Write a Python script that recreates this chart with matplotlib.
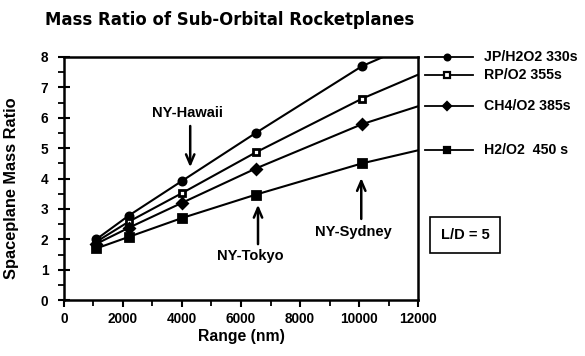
import matplotlib
matplotlib.use("Agg")
import matplotlib.pyplot as plt
from matplotlib import font_manager as fm
import matplotlib.transforms as mtrans
from matplotlib.ticker import MultipleLocator

names = {f.name for f in fm.fontManager.ttflist}
base_font = "Liberation Sans" if "Liberation Sans" in names else "DejaVu Sans"
plt.rcParams['font.family'] = [base_font, 'DejaVu Sans']

# Data
range_nm = [1100, 2200, 4000, 6500, 10100, 12000]
series_labels = ["JP/H2O2 330s", "RP/O2 355s", "CH4/O2 385s", "H2/O2  450 s"]
jp_h2o2 = [2.0, 2.78, 3.92, 5.50, 7.70, 8.5]
rp_o2 = [1.92, 2.58, 3.52, 4.86, 6.63, 7.42]
ch4_o2 = [1.85, 2.38, 3.20, 4.33, 5.79, 6.38]
h2_o2 = [1.70, 2.08, 2.70, 3.47, 4.50, 4.93]
series_values = [jp_h2o2, rp_o2, ch4_o2, h2_o2]
markers = ["o", "s", "D", "s"]
marker_faces = ["black", "white", "black", "black"]
marker_sizes = [5.2, 5.0, 4.6, 5.6]

routes = ["NY-Hawaii", "NY-Tokyo", "NY-Sydney"]
route_head = [(4280, 4.28), (6575, 3.23), (10070, 4.11)]
route_tail = [(4280, 5.82), (6575, 1.75), (10070, 2.58)]
route_text = [(4200, 6.15), (6330, 1.46), (9790, 2.25)]

fig = plt.figure(figsize=(5.85, 3.56), dpi=100)
ax = fig.add_axes([0.109, 0.157, 0.606, 0.683])

for vals, m, fc, ms in zip(series_values, markers, marker_faces, marker_sizes):
    ax.plot(range_nm, vals, color="black", lw=1.5, marker=m, ms=ms,
            mfc=fc, mec="black", mew=2.0, markevery=list(range(len(vals) - 1)))

ax.set_xlim(0, 12000)
ax.set_ylim(0, 8)
ax.xaxis.set_major_locator(MultipleLocator(2000))
ax.xaxis.set_minor_locator(MultipleLocator(1000))
ax.yaxis.set_major_locator(MultipleLocator(1))
ax.yaxis.set_minor_locator(MultipleLocator(0.5))
ax.tick_params(which="major", direction="out", length=5, width=1.5, labelsize=9.8)
ax.tick_params(which="minor", direction="out", length=4, width=1.3)
ax.tick_params(axis="y", which="major", direction="inout", length=8, pad=7)
for lab in ax.get_xticklabels() + ax.get_yticklabels():
    lab.set_fontweight("bold")
for s in ax.spines.values():
    s.set_linewidth(1.8)

ax.set_xlabel("Range (nm)", fontsize=11.3, fontweight="bold", labelpad=2)
ax.set_ylabel("Spaceplane Mass Ratio", fontsize=11.8, fontweight="bold")
ax.yaxis.set_label_coords(-0.125, 0.46)

for name, h, t, tx in zip(routes, route_head, route_tail, route_text):
    ax.annotate("", xy=h, xytext=t,
                arrowprops=dict(arrowstyle="->,head_length=0.7,head_width=0.3", lw=1.8, color="black"))
    ax.text(tx[0], tx[1], name, ha="center", va="center", fontsize=10.5, fontweight="bold")

# right-side key aligned with line ends
trans = mtrans.blended_transform_factory(ax.transAxes, ax.transData)
for lab, vals, m, fc, ms in zip(series_labels, series_values, markers, marker_faces, marker_sizes):
    yv = min(vals[-1], 8.0)
    ax.plot([1.02, 1.153], [yv, yv], transform=trans, color="black", lw=1.3, clip_on=False)
    ax.plot([1.082], [yv], transform=trans, color="black", marker=m, ms=ms * 0.8,
            mfc=fc, mec="black", mew=1.6, clip_on=False)
    ax.text(1.184, yv, lab, transform=trans, ha="left", va="center", fontsize=10.2, fontweight="bold")

fig.text(0.795, 0.34, "L/D = 5", ha="center", va="center", fontsize=10.5, fontweight="bold",
         bbox=dict(boxstyle="square,pad=0.75", fc="white", ec="black", lw=1.2))

title = fig.text(0.077, 0.944, "Mass Ratio of Sub-Orbital Rocketplanes", ha="left", va="center",
                 fontsize=16, fontweight="heavy", family="DejaVu Sans")
fig.canvas.draw()
w = title.get_window_extent().width
title.set_fontsize(16 * 370.0 / w)

fig.savefig("out.png", dpi=100)
